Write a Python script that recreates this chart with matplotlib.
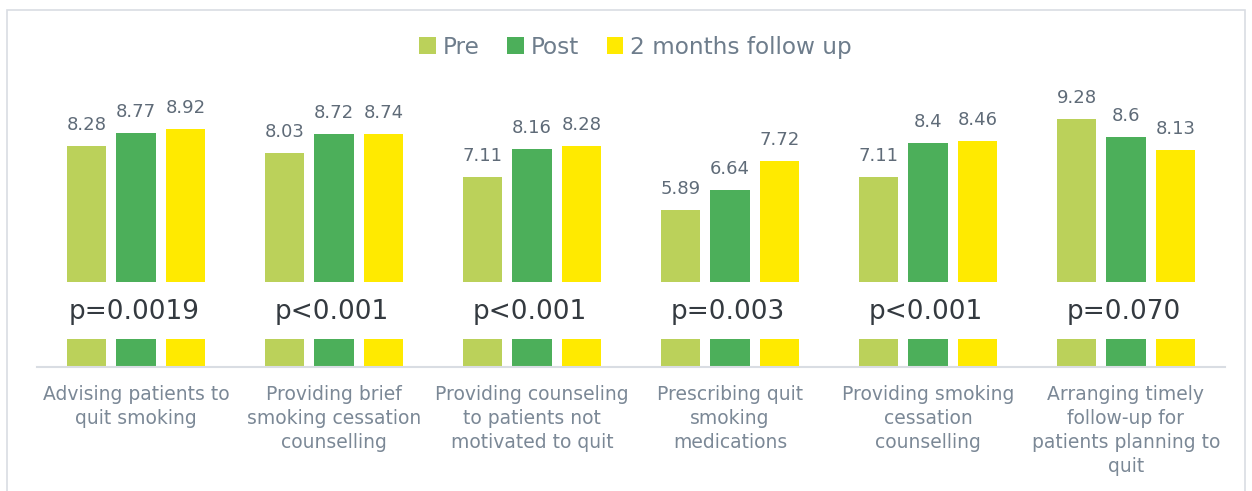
import matplotlib.pyplot as plt
import numpy as np
from matplotlib.patches import Rectangle

# дані з графіка
categories = [
    "Advising patients to\nquit smoking",
    "Providing brief\nsmoking cessation\ncounselling",
    "Providing counseling\nto patients not\nmotivated to quit",
    "Prescribing quit\nsmoking\nmedications",
    "Providing smoking\ncessation\ncounselling",
    "Arranging timely\nfollow-up for\npatients planning to\nquit",
]
pre = [8.28, 8.03, 7.11, 5.89, 7.11, 9.28]
post = [8.77, 8.72, 8.16, 6.64, 8.4, 8.6]
follow_up = [8.92, 8.74, 8.28, 7.72, 8.46, 8.13]
p_values = ["p=0.0019", "p<0.001", "p<0.001", "p=0.003", "p<0.001", "p=0.070"]
series_names = ["Pre", "Post", "2 months follow up"]

colors = ["#bbd15a", "#4caf5a", "#ffea00"]
value_color = "#5f6b78"
label_color = "#7b8896"

fig = plt.figure(figsize=(12.52, 4.91), dpi=100)
ax = fig.add_axes([0.0296, 0.2525, 0.9488, 0.5437])

x = np.arange(len(categories))
width = 0.2
offsets = [-0.25, 0, 0.25]
series = [pre, post, follow_up]

for vals, off, col, name in zip(series, offsets, colors, series_names):
    bars = ax.bar(x + off, vals, width, color=col, label=name, zorder=2)
    for b, v in zip(bars, vals):
        ax.annotate(f"{v:g}", (b.get_x() + b.get_width() / 2, v),
                    xytext=(0, 11.5), textcoords="offset points",
                    ha="center", va="baseline", fontsize=13, color=value_color)

# білі плашки з p-значеннями
for i, p in enumerate(p_values):
    ax.add_patch(Rectangle((i - 0.42, 1.05), 0.84, 2.12, facecolor="white",
                           edgecolor="none", zorder=3))
    ax.text(i - 0.01, 2.05, p, ha="center", va="center", fontsize=19,
            color="#343a40", zorder=4)

ax.set_xlim(-0.5, len(categories) - 0.5)
ax.set_ylim(0, 10)
ax.set_yticks([])
ax.set_xticks(x)
ax.set_xticklabels(categories, fontsize=13.5, color=label_color, linespacing=1.33)
ax.tick_params(axis="x", length=0, pad=13)
for s in ["top", "right", "left"]:
    ax.spines[s].set_visible(False)
ax.spines["bottom"].set_color("#d9dde3")
ax.spines["bottom"].set_linewidth(1.5)

leg = fig.legend(loc="center", bbox_to_anchor=(0.5076, 0.904), ncol=3, frameon=False,
                 fontsize=16.7, handlelength=0.7, handleheight=0.7,
                 handletextpad=0.3, columnspacing=1.2)
for t in leg.get_texts():
    t.set_color("#6e7d8c")

# рамка навколо рисунка
fig.patches.append(Rectangle((0.0056, -0.05), 0.9888, 1.03, transform=fig.transFigure,
                             fill=False, edgecolor="#d9dde3", linewidth=1.2))

fig.savefig("out.png", dpi=100)
